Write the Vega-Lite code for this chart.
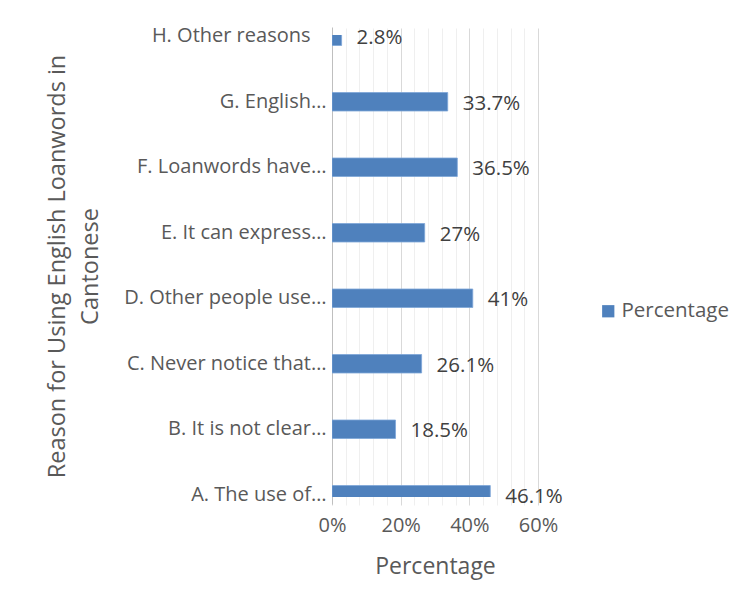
{
  "$schema": "https://vega.github.io/schema/vega-lite/v6.json",
  "autosize": "none",
  "width": 206,
  "height": 462,
  "padding": {"left": 332, "top": 35, "right": 205, "bottom": 112},
  "background": "white",
  "data": {
    "values": [
      {"reason": "A. The use of…", "value": 0.461, "series": "Percentage"},
      {"reason": "B. It is not clear…", "value": 0.185, "series": "Percentage"},
      {"reason": "C. Never notice that…", "value": 0.261, "series": "Percentage"},
      {"reason": "D. Other people use…", "value": 0.41, "series": "Percentage"},
      {"reason": "E. It can express…", "value": 0.27, "series": "Percentage"},
      {"reason": "F. Loanwords have…", "value": 0.365, "series": "Percentage"},
      {"reason": "G. English…", "value": 0.337, "series": "Percentage"},
      {"reason": "H. Other reasons", "value": 0.028, "series": "Percentage"}
    ]
  },
  "encoding": {
    "y": {
      "field": "reason",
      "type": "nominal",
      "sort": "descending",
      "scale": {"paddingInner": 0.7176, "paddingOuter": 0, "range": [-8, 469]},
      "axis": {
        "title": ["Reason for Using English Loanwords in", "Cantonese"],
        "titleFont": "Open Sans",
        "titleFontSize": 23.5,
        "titleFontWeight": "normal",
        "titleColor": "#595959",
        "titleX": -287,
        "titleY": 231,
        "titleAngle": -90,
        "titleAlign": "center",
        "titleBaseline": "top",
        "titleLineHeight": 33,
        "labelFont": "Open Sans",
        "labelFontSize": 20,
        "labelColor": "#595959",
        "labelPadding": {"condition": {"test": "datum.value == 'H. Other reasons'", "value": 22}, "value": 6},
        "labelLimit": 300,
        "ticks": false,
        "domainColor": "#bfbfbf",
        "grid": false
      }
    },
    "x": {
      "field": "value",
      "type": "quantitative",
      "scale": {"domain": [0, 0.6], "nice": false},
      "axis": {
        "values": [0, 0.04, 0.08, 0.12, 0.16, 0.2, 0.24, 0.28, 0.32, 0.36, 0.4, 0.44, 0.48, 0.52, 0.56, 0.6],
        "labelExpr": "round(datum.value * 100) % 20 == 0 ? format(datum.value, '.0%') : ''",
        "format": ".0%",
        "grid": true,
        "gridColor": {"condition": {"test": "round(datum.value * 100) % 20 == 0", "value": "#d9d9d9"}, "value": "#efefef"},
        "gridWidth": 1,
        "domain": false,
        "ticks": false,
        "labelFont": "Open Sans",
        "labelFontSize": 20,
        "labelColor": "#595959",
        "labelPadding": 18,
        "labelFlush": false,
        "labelOverlap": false,
        "title": "Percentage",
        "titleFont": "Open Sans",
        "titleFontSize": 23,
        "titleFontWeight": "normal",
        "titleColor": "#595959",
        "titlePadding": 20
      }
    }
  },
  "layer": [
    {
      "mark": {"type": "bar", "clip": true, "stroke": "#7ea6d8", "strokeWidth": 0.8},
      "encoding": {
        "color": {
          "field": "series",
          "type": "nominal",
          "scale": {"range": ["#4f81bd"]},
          "legend": {
            "title": null,
            "orient": "none",
            "legendX": 266,
            "legendY": 266,
            "symbolType": "square",
            "symbolSize": 150,
            "symbolStrokeWidth": 0,
            "labelFont": "Open Sans",
            "labelFontSize": 20.5,
            "labelColor": "#595959",
            "labelOffset": 3
          }
        }
      }
    },
    {
      "mark": {"type": "text", "align": "left", "baseline": "middle", "dx": 15, "dy": 2, "font": "Open Sans", "fontSize": 20.5, "color": "#404040"},
      "encoding": {
        "text": {"field": "value", "type": "quantitative", "format": ".1~%"}
      }
    }
  ],
  "config": {
    "view": {"stroke": null}
  }
}
